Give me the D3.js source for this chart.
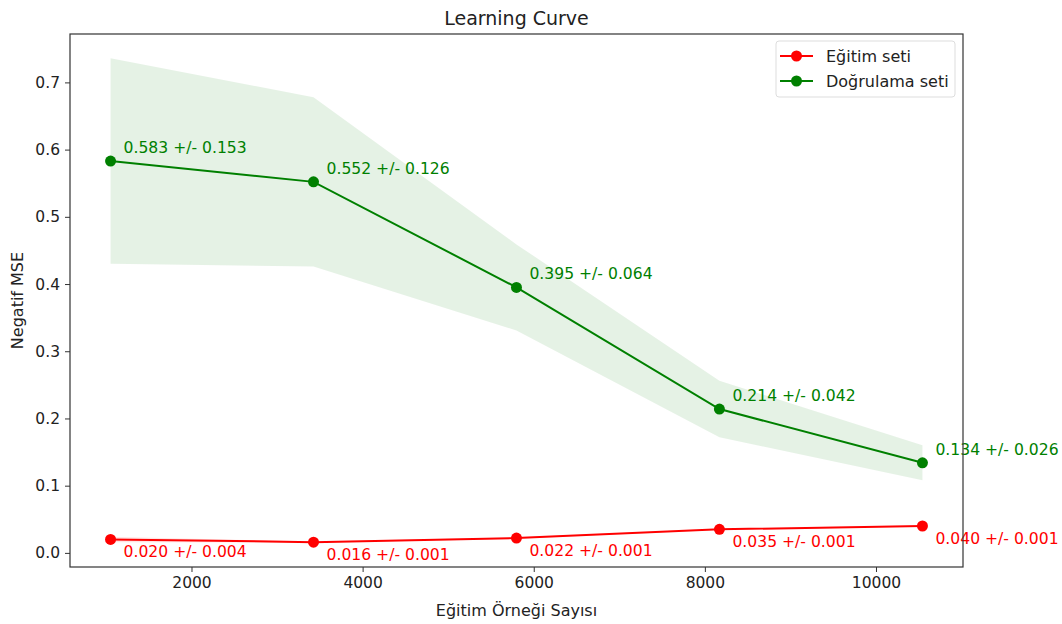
<!DOCTYPE html>
<html>
<head>
<meta charset="utf-8">
<script src="https://cdn.jsdelivr.net/npm/d3@7"></script>
<style>
  body { margin: 0; background: #fff; }
  text { font-family: "DejaVu Sans", sans-serif; fill: #222; }
</style>
</head>
<body>
<div class="chart_wrapper"></div>
<script>
  var trainSizes = [1054, 3426, 5798, 8170, 10543];
  var trainMean = [0.020, 0.016, 0.022, 0.035, 0.040];
  var trainStd = [0.004, 0.001, 0.001, 0.001, 0.001];
  var valMean = [0.583, 0.552, 0.395, 0.214, 0.134];
  var valStd = [0.153, 0.126, 0.064, 0.042, 0.026];
  var xTicks = [2000, 4000, 6000, 8000, 10000];
  var yTicks = [0.0, 0.1, 0.2, 0.3, 0.4, 0.5, 0.6, 0.7];

  var width = 1062;
  var height = 624;
  var margin = { top: 34, right: 99, bottom: 57, left: 70 };
  var w = width - margin.left - margin.right;
  var h = height - margin.top - margin.bottom;

  var svg = d3.select('.chart_wrapper').append('svg')
    .attr('width', width).attr('height', height);
  var g = svg.append('g')
    .attr('transform', 'translate(' + margin.left + ',' + margin.top + ')');

  var x = d3.scaleLinear().domain([580, 11017]).range([0, w]);
  var y = d3.scaleLinear().domain([-0.021, 0.772]).range([h, 0]);

  function rows(mean, std) {
    return trainSizes.map(function (s, i) {
      return { x: s, m: mean[i], s: std[i], lo: mean[i] - std[i], hi: mean[i] + std[i] };
    });
  }
  var series = [
    { name: 'Eğitim seti', color: 'red', data: rows(trainMean, trainStd), dy: 18 },
    { name: 'Doğrulama seti', color: 'green', data: rows(valMean, valStd), dy: -8 }
  ];

  var area = d3.area().x(function (d) { return x(d.x); })
    .y0(function (d) { return y(d.lo); }).y1(function (d) { return y(d.hi); });
  var line = d3.line().x(function (d) { return x(d.x); }).y(function (d) { return y(d.m); });

  series.forEach(function (s) {
    g.append('path').attr('d', area(s.data)).attr('fill', s.color).attr('fill-opacity', 0.1);
  });

  series.forEach(function (s) {
    g.append('path').attr('d', line(s.data)).attr('fill', 'none')
      .attr('stroke', s.color).attr('stroke-width', 2);
    g.selectAll(null).data(s.data).enter().append('circle')
      .attr('cx', function (d) { return x(d.x); })
      .attr('cy', function (d) { return y(d.m); })
      .attr('r', 5.5).attr('fill', s.color);
    g.selectAll(null).data(s.data).enter().append('text')
      .attr('x', function (d) { return x(d.x) + 13; })
      .attr('y', function (d) { return y(d.m) + s.dy; })
      .attr('font-size', 15.6)
      .style('fill', s.color)
      .text(function (d) { return d.m.toFixed(3) + ' +/- ' + d.s.toFixed(3); });
  });

  // axes
  var xAxis = g.append('g').attr('transform', 'translate(0,' + h + ')')
    .call(d3.axisBottom(x).tickValues(xTicks).tickSize(5).tickPadding(5).tickFormat(d3.format('d')));
  var yAxis = g.append('g')
    .call(d3.axisLeft(y).tickValues(yTicks).tickSize(5).tickPadding(5).tickFormat(d3.format('.1f')));
  [xAxis, yAxis].forEach(function (a) {
    a.select('.domain').remove();
    a.selectAll('line').attr('stroke', '#333');
    a.selectAll('text').attr('font-size', 15.5).style('font-family', '"DejaVu Sans", sans-serif').style('fill', '#222');
  });

  g.append('rect').attr('width', w).attr('height', h)
    .attr('fill', 'none').attr('stroke', '#333').attr('stroke-width', 1.2);

  svg.append('text').attr('x', margin.left + w / 2).attr('y', 25)
    .attr('text-anchor', 'middle').attr('font-size', 19).text('Learning Curve');
  svg.append('text').attr('x', margin.left + w / 2).attr('y', 616)
    .attr('text-anchor', 'middle').attr('font-size', 16).text('Eğitim Örneği Sayısı');
  svg.append('text').attr('transform', 'translate(23,' + (margin.top + h / 2) + ') rotate(-90)')
    .attr('text-anchor', 'middle').attr('font-size', 16).text('Negatif MSE');

  // legend
  var legend = svg.append('g').attr('transform', 'translate(776,41)');
  legend.append('rect').attr('width', 179).attr('height', 56).attr('rx', 3)
    .attr('fill', '#fff').attr('fill-opacity', 0.8).attr('stroke', '#ddd');
  series.forEach(function (s, i) {
    var row = legend.append('g').attr('transform', 'translate(0,' + (15 + i * 25) + ')');
    row.append('line').attr('x1', 4).attr('x2', 37).attr('stroke', s.color).attr('stroke-width', 2);
    row.append('circle').attr('cx', 20.5).attr('r', 5.5).attr('fill', s.color);
    row.append('text').attr('x', 50).attr('y', 5.5).attr('font-size', 16).text(s.name);
  });
</script>
</body>
</html>
